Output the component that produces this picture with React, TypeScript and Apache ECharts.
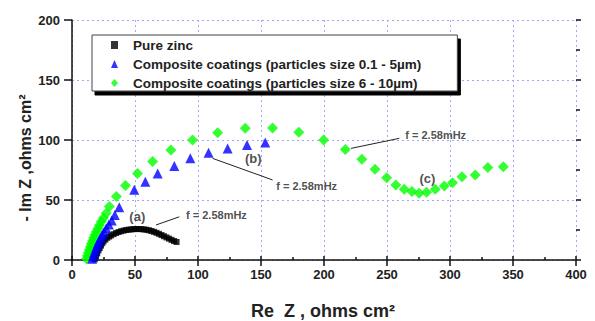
import React, { useEffect, useRef } from "react";
import * as echarts from "echarts";

const xTicks = [0, 400, 50];
const yTicks = [0, 200, 50];

const zincRe = [18, 19, 20, 21, 22, 23, 24, 25, 26.5, 28, 29.5, 31, 33, 35, 37, 39, 41, 43, 45, 47, 49, 51, 53, 55, 57, 59, 61, 63, 65, 67, 69, 71, 73, 75, 77, 79, 81, 83];
const zincIm = [0.5, 3, 5.5, 8, 10, 12, 14, 15.5, 17, 18.5, 19.5, 20.5, 21.5, 22.5, 23.3, 24, 24.5, 25, 25.3, 25.5, 25.7, 25.8, 25.8, 25.7, 25.5, 25.2, 24.8, 24.2, 23.5, 22.7, 21.8, 20.8, 19.8, 18.8, 17.8, 16.8, 15.8, 15];

const smallRe = [16, 16.8, 17.6, 18.5, 19.4, 20.4, 21.5, 22.7, 24, 25.5, 27.2, 29.2, 31.5, 34, 37.5, 49.4, 58.2, 68, 81.2, 93.9, 108.4, 123.5, 138.9, 153.4];
const smallIm = [1, 3.5, 6, 8.5, 11, 13.5, 16, 18.5, 21, 23.5, 26.5, 29.5, 33, 37.5, 44, 58.5, 65.3, 72, 78.3, 84.7, 89.4, 93, 95.8, 98];

const largeRe = [11.5, 12.2, 13, 13.8, 14.6, 15.4, 16.3, 17.2, 18.2, 19.3, 20.5, 21.8, 23.3, 25, 27.2, 29.6, 35.2, 42.4, 52, 64, 78.5, 95.7, 115.6, 137.5, 159.2, 180, 199.7, 216.9, 230, 240.5, 249.7, 257, 263.7, 269.8, 275.5, 281.4, 288.3, 295.5, 302, 309.5, 320, 330, 342.3];
const largeIm = [1, 3.5, 6, 8.5, 11, 13.5, 16, 18.5, 21, 23.5, 26, 29, 32, 35, 39, 44.6, 53, 62, 72, 82, 91.7, 100, 106, 109.7, 110, 106.5, 100, 92, 84, 75.6, 68.5, 62.5, 58.9, 57, 55.6, 56.4, 58.9, 61.7, 64.4, 69.4, 70.8, 77, 77.8];

const seriesNames = [
  "Pure zinc",
  "Composite coatings (particles size 0.1 - 5\u00b5m)",
  "Composite coatings (particles size 6 - 10\u00b5m)",
];

// annotations: [x, y, text]
const curveLabels: [number, number, string][] = [
  [51.8, 36, "(a)"],
  [143.9, 85, "(b)"],
  [282, 68.3, "(c)"],
];
const freqLabels: [number, number, string][] = [
  [90.5, 37.5, "f = 2.58mHz"],
  [162.1, 62, "f = 2.58mHz"],
  [264.5, 104, "f = 2.58mHz"],
];
const arrows: [number, number, number, number][] = [
  [66.7, 29.2, 85.2, 36],
  [111.6, 84.7, 159.2, 66.7],
  [221.4, 93, 259.8, 101.4],
];

const zip = (a: number[], b: number[]) => a.map((v, i) => [v, b[i]]);

export default function App() {
  const ref = useRef<HTMLDivElement>(null);
  useEffect(() => {
    if (!ref.current) return;
    const chart = echarts.init(ref.current, null, { renderer: "svg" });
    const font = "'Liberation Sans', Arial, sans-serif";
    const gridLine = { show: true, lineStyle: { color: "#a4a8f0", type: [2, 3] as any, width: 1 } };
    chart.setOption({
      animation: false,
      backgroundColor: "#fff",
      textStyle: { fontFamily: font },
      grid: { left: 72, right: 19, top: 20, bottom: 61 },
      legend: {
        data: seriesNames,
        orient: "vertical",
        left: 92,
        top: 35,
        itemWidth: 7,
        itemHeight: 8,
        itemGap: 3,
        padding: [2, 36, 0, 19],
        backgroundColor: "#fff",
        borderColor: "#444",
        borderWidth: 1,
        shadowColor: "#000",
        shadowOffsetX: 3,
        shadowOffsetY: 4,
        shadowBlur: 0,
        itemStyle: { shadowColor: "rgba(0,0,0,0)", shadowBlur: 0, shadowOffsetX: 0, shadowOffsetY: 0 },
        textStyle: { fontFamily: font, fontWeight: "bold", fontSize: 13.5, color: "#222", lineHeight: 16, padding: [0, 0, 0, 10] },
      },
      xAxis: [
        {
          type: "value", min: xTicks[0], max: xTicks[1], interval: xTicks[2],
          axisLine: { lineStyle: { color: "#111", width: 1.5 } },
          axisTick: { show: true, length: 6, lineStyle: { color: "#111", width: 1.5 } },
          axisLabel: { fontFamily: font, fontWeight: "bold", fontSize: 13, color: "#222", margin: 8 },
          splitLine: gridLine,
        },
        {
          type: "value", position: "top", offset: -240, min: xTicks[0], max: xTicks[1], interval: xTicks[2],
          axisLine: { show: false },
          axisTick: { show: true, length: 4, lineStyle: { color: "#111", width: 1.5 } },
          minorTick: { show: true, splitNumber: 2, length: 3, lineStyle: { color: "#111", width: 1.5 } },
          axisLabel: { show: false },
          splitLine: { show: false },
        },
      ],
      yAxis: [
        {
          type: "value", min: yTicks[0], max: yTicks[1], interval: yTicks[2],
          axisLine: { show: true, lineStyle: { color: "#111", width: 1.5 } },
          axisTick: { show: true, length: 8, lineStyle: { color: "#111", width: 1.5 } },
          axisLabel: { fontFamily: font, fontWeight: "bold", fontSize: 13, color: "#222", margin: 12 },
          splitLine: gridLine,
        },
        {
          type: "value", position: "right", offset: -504, min: yTicks[0], max: yTicks[1], interval: yTicks[2],
          axisLine: { show: false },
          axisTick: { show: true, length: 5, lineStyle: { color: "#111", width: 1.5 } },
          minorTick: { show: true, splitNumber: 2, length: 4, lineStyle: { color: "#111", width: 1.5 } },
          axisLabel: { show: false },
          splitLine: { show: false },
        },
      ],
      series: [
        {
          name: seriesNames[0], type: "scatter", symbol: "rect", symbolSize: 6,
          itemStyle: { color: "#000" }, data: zip(zincRe, zincIm), z: 3,
          markLine: {
            silent: true, symbol: ["none", "arrow"], symbolSize: [0, 7],
            label: { show: false },
            lineStyle: { color: "#222", width: 1, type: "solid" },
            data: arrows.map((a) => [{ coord: [a[0], a[1]] }, { coord: [a[2], a[3]] }]),
          },
        },
        {
          name: seriesNames[1], type: "scatter", symbol: "triangle", symbolSize: 10,
          itemStyle: { color: "#0000ff" }, data: zip(smallRe, smallIm), z: 4,
        },
        {
          name: seriesNames[2], type: "scatter", symbol: "diamond", symbolSize: 11,
          itemStyle: { color: "#00ff00" }, data: zip(largeRe, largeIm), z: 2,
        },
        {
          name: "curveLabels", type: "scatter", symbolSize: 0, silent: true, z: 6,
          data: curveLabels,
          label: {
            show: true, position: "inside", formatter: (p: any) => p.data[2],
            fontFamily: font, fontWeight: "bold", fontSize: 13, color: "#222",
          },
        },
        {
          name: "freqLabels", type: "scatter", symbolSize: 0, silent: true, z: 6,
          data: freqLabels,
          label: {
            show: true, position: "right", distance: 0, formatter: (p: any) => p.data[2],
            fontFamily: font, fontWeight: "bold", fontSize: 11, color: "#222",
          },
        },
      ],
      graphic: [
        {
          type: "text", x: 323, y: 311,
          style: {
            text: "Re  Z , ohms cm\u00b2", font: `bold 18px ${font}`, fill: "#222",
            textAlign: "center", textVerticalAlign: "middle",
          },
        },
        {
          type: "text", x: 25, y: 158, rotation: Math.PI / 2,
          style: {
            text: "- Im Z ,ohms cm\u00b2", font: `bold 16px ${font}`, fill: "#222",
            textAlign: "center", textVerticalAlign: "middle",
          },
        },
      ],
    });
    return () => chart.dispose();
  }, []);
  return <div ref={ref} style={{ width: 595, height: 321, position: "absolute", left: 0, top: 0 }} />;
}
